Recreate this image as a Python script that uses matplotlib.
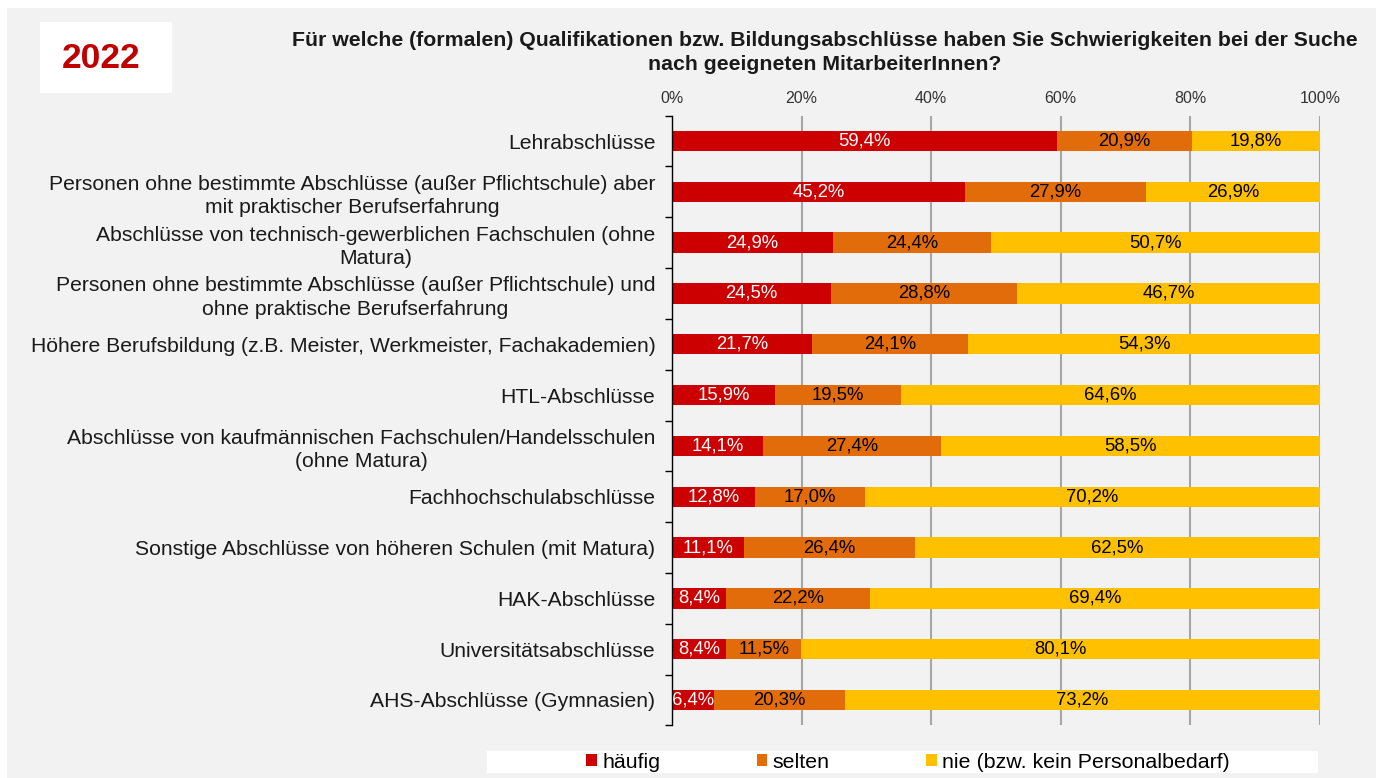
import matplotlib
matplotlib.use("Agg")
import matplotlib.pyplot as plt
from matplotlib.patches import Rectangle, Patch
import numpy as np

plt.rcParams['font.family'] = ['Liberation Sans', 'DejaVu Sans']

categories = [
    "Lehrabschlüsse",
    "Personen ohne bestimmte Abschlüsse (außer Pflichtschule) aber\nmit praktischer Berufserfahrung",
    "Abschlüsse von technisch-gewerblichen Fachschulen (ohne\nMatura)",
    "Personen ohne bestimmte Abschlüsse (außer Pflichtschule) und\nohne praktische Berufserfahrung",
    "Höhere Berufsbildung (z.B. Meister, Werkmeister, Fachakademien)",
    "HTL-Abschlüsse",
    "Abschlüsse von kaufmännischen Fachschulen/Handelsschulen\n(ohne Matura)",
    "Fachhochschulabschlüsse",
    "Sonstige Abschlüsse von höheren Schulen (mit Matura)",
    "HAK-Abschlüsse",
    "Universitätsabschlüsse",
    "AHS-Abschlüsse (Gymnasien)",
]
haeufig = [59.4, 45.2, 24.9, 24.5, 21.7, 15.9, 14.1, 12.8, 11.1, 8.4, 8.4, 6.4]
selten = [20.9, 27.9, 24.4, 28.8, 24.1, 19.5, 27.4, 17.0, 26.4, 22.2, 11.5, 20.3]
nie = [19.8, 26.9, 50.7, 46.7, 54.3, 64.6, 58.5, 70.2, 62.5, 69.4, 80.1, 73.2]
series_names = ["häufig", "selten", "nie (bzw. kein Personalbedarf)"]
xticks = [0, 20, 40, 60, 80, 100]
title = ("Für welche (formalen) Qualifikationen bzw. Bildungsabschlüsse haben Sie Schwierigkeiten bei der Suche\n"
         "nach geeigneten MitarbeiterInnen?")
year = "2022"

colors = ["#CC0000", "#E36C0A", "#FFC000"]
label_colors = ["white", "black", "black"]

W, H = 1376, 778
fig = plt.figure(figsize=(W / 100, H / 100), dpi=100)
fig.patch.set_facecolor("white")
fig.add_artist(Rectangle((7 / W, 0), 1 - 7 / W, 1 - 8 / H, transform=fig.transFigure,
                         facecolor="#F2F2F2", edgecolor="none", zorder=-10))
# year box
fig.add_artist(Rectangle((40 / W, 1 - 93 / H), 132 / W, 71 / H, transform=fig.transFigure,
                         facecolor="white", edgecolor="none", zorder=-5))
fig.text(101 / W, 1 - 58 / H, year, ha="center", va="center", fontsize=25.5,
         fontweight="bold", color="#C00000")
fig.text(825 / W, 1 - 31 / H, title, ha="center", va="top", fontsize=15.3,
         fontweight="bold", color="#1a1a1a", linespacing=1.3)

ax = fig.add_axes([672 / W, 1 - 725.4 / H, 648 / W, (725.4 - 115.6) / H])
ax.set_facecolor("none")

data = np.array([haeufig, selten, nie])
totals = data.sum(axis=0)
norm = data / totals * 100
y = np.arange(len(categories))
left = np.zeros(len(categories))
for i in range(3):
    bars = ax.barh(y, norm[i], left=left, height=0.4, color=colors[i], zorder=3,
                   label=series_names[i])
    for j, b in enumerate(bars):
        ax.text(left[j] + norm[i][j] / 2, y[j], f"{data[i][j]:.1f}%".replace(".", ","),
                ha="center", va="center", fontsize=13.3, color=label_colors[i], zorder=4)
    left += norm[i]

ax.set_xlim(0, 100)
ax.set_ylim(len(categories) - 0.5, -0.5)
ax.set_xticks(xticks)
ax.set_xticklabels([f"{v}%" for v in xticks])
ax.xaxis.tick_top()
ax.tick_params(axis="x", length=0, labelsize=11.5, colors="#333333", pad=7)
ax.grid(axis="x", color="#A6A6A6", linewidth=1.5, zorder=1)
ax.set_yticks(y)
ax.set_yticklabels(categories, fontsize=15.2, multialignment="center", color="#1a1a1a",
                   linespacing=1.3)
ax.set_yticks(np.arange(-0.5, len(categories), 1), minor=True)
ax.tick_params(axis="y", which="major", length=0, pad=12)
ax.tick_params(axis="y", which="minor", length=5, width=1, color="black")
for s in ["top", "right", "bottom"]:
    ax.spines[s].set_visible(False)
ax.spines["left"].set_color("black")
ax.spines["left"].set_linewidth(1)
ax.spines["left"].set_zorder(5)

# legend
fig.add_artist(Rectangle((487 / W, 1 - 773 / H), 831 / W, 22 / H, transform=fig.transFigure,
                         facecolor="white", edgecolor="none", zorder=-5))
handles = [Patch(facecolor=c, edgecolor="none") for c in colors]
fig.legend(handles, series_names, loc="center", bbox_to_anchor=(908 / W, 1 - 762 / H),
           ncol=3, frameon=False, fontsize=15.4, handlelength=0.5, handleheight=0.5,
           handletextpad=0.25, columnspacing=4.5, borderpad=0)

fig.savefig("out.png", dpi=100)
